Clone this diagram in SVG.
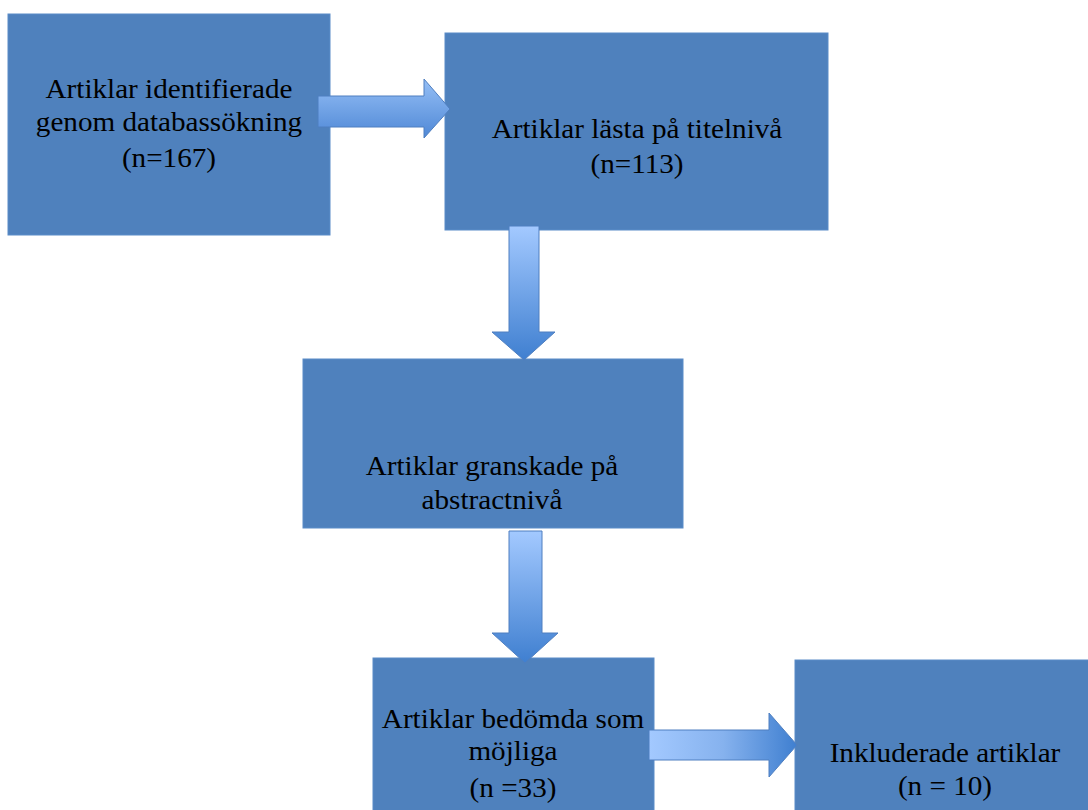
<svg xmlns="http://www.w3.org/2000/svg" width="1088" height="810" viewBox="0 0 1088 810">
<defs>
<linearGradient id="gv" x1="0" y1="0" x2="0" y2="1"><stop offset="0" stop-color="#a3c9ff"/><stop offset="1" stop-color="#3f7fd0"/></linearGradient>
<linearGradient id="gh" x1="0" y1="0" x2="1" y2="0"><stop offset="0" stop-color="#a3c9ff"/><stop offset="0.5" stop-color="#86b2ee"/><stop offset="1" stop-color="#3f7fd0"/></linearGradient>
<linearGradient id="gv2" x1="0" y1="0" x2="0" y2="1"><stop offset="0" stop-color="#95bff6"/><stop offset="1" stop-color="#4f88d6"/></linearGradient>
</defs>
<style>
.box{fill:#4f81bd;stroke:#5b8cc8;stroke-width:1}
.t{font-family:"Liberation Serif","Times New Roman",serif;font-size:27px;fill:#000;text-anchor:middle;transform-box:fill-box;transform-origin:center;transform:scaleX(1.08)}
.ar{stroke:#4f7fc0;stroke-width:1}
</style>
<g id="n1"><rect class="box" x="8" y="14" width="322" height="221"/>
<text class="t" x="169" y="98">Artiklar identifierade</text><text class="t" x="169" y="131">genom databassökning</text><text class="t" x="169" y="167">(n=167)</text></g>
<g id="n2"><rect class="box" x="445" y="33" width="383" height="197"/>
<text class="t" x="637" y="138">Artiklar lästa på titelnivå</text><text class="t" x="637" y="173">(n=113)</text></g>
<g id="n3"><rect class="box" x="303" y="359" width="380" height="169"/>
<text class="t" x="492" y="475">Artiklar granskade på</text><text class="t" x="492" y="509">abstractnivå</text></g>
<g id="n4"><rect class="box" x="373" y="658" width="281" height="160"/>
<text class="t" x="513" y="728">Artiklar bedömda som</text><text class="t" x="513" y="760">möjliga</text><text class="t" x="513" y="797">(n =33)</text></g>
<g id="n5"><rect class="box" x="795" y="660" width="300" height="160"/>
<text class="t" x="945" y="762">Inkluderade artiklar</text><text class="t" x="945" y="795">(n = 10)</text></g>
<g id="connectors">
<path class="ar" fill="url(#gv2)" d="M318,96 H424 V79 L450,109 L424,138 V127 H318 Z"/>
<path class="ar" fill="url(#gv)" d="M509,226 H539 V332 H555 L524,360 L492,332 H509 Z"/>
<path class="ar" fill="url(#gv)" d="M509,531 H542 V633 H558 L525,663 L492,633 H509 Z"/>
<path class="ar" fill="url(#gh)" d="M649,730 H769 V713 L797,745 L769,777 V760 H649 Z"/>
</g>
</svg>
